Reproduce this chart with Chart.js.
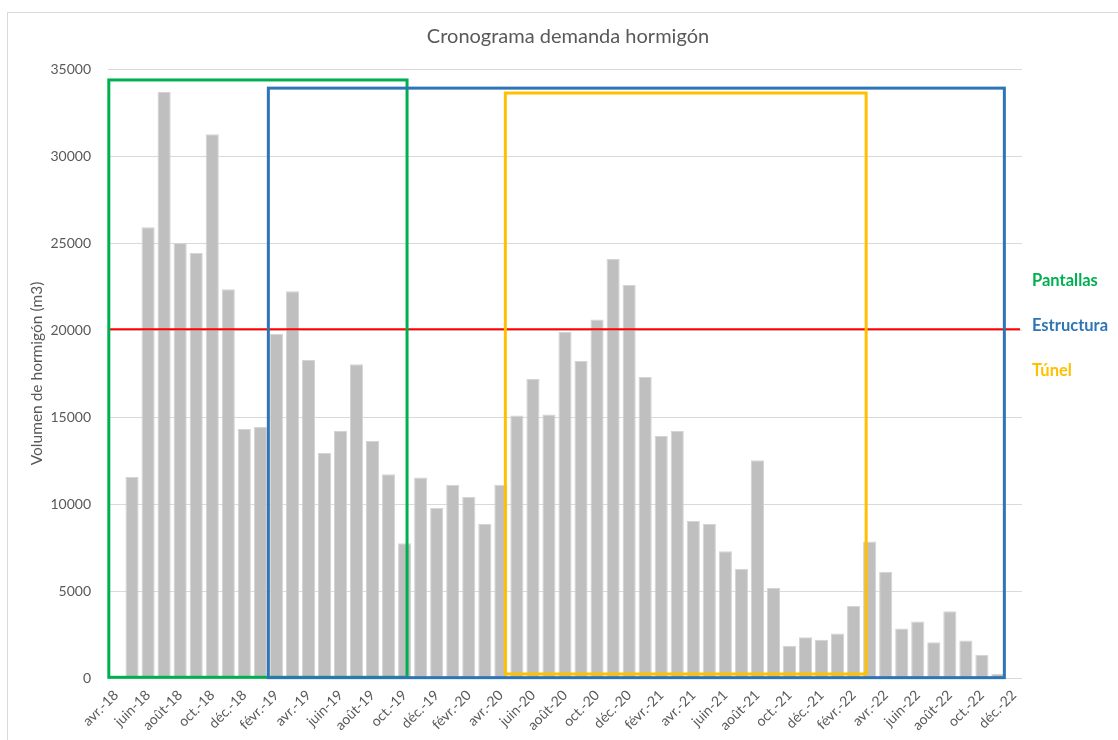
<!DOCTYPE html>
<html>
<head>
<meta charset="utf-8">
<script src="https://cdn.jsdelivr.net/npm/chart.js@4/dist/chart.umd.min.js"></script>
<style>
  html, body { margin: 0; padding: 0; background: #fff; }
  #wrap { position: relative; width: 1118px; height: 740px; }
</style>
</head>
<body>
<div id="wrap"><canvas id="chart" width="1118" height="740"></canvas></div>
<script>
// Monthly categories, avr.-18 .. déc.-22
var months = [
    'avr.-18', 'mai-18', 'juin-18', 'juil.-18', 'août-18', 'sept.-18', 'oct.-18', 'nov.-18', 'déc.-18',
    'janv.-19', 'févr.-19', 'mars-19', 'avr.-19', 'mai-19', 'juin-19', 'juil.-19', 'août-19', 'sept.-19', 'oct.-19', 'nov.-19', 'déc.-19',
    'janv.-20', 'févr.-20', 'mars-20', 'avr.-20', 'mai-20', 'juin-20', 'juil.-20', 'août-20', 'sept.-20', 'oct.-20', 'nov.-20', 'déc.-20',
    'janv.-21', 'févr.-21', 'mars-21', 'avr.-21', 'mai-21', 'juin-21', 'juil.-21', 'août-21', 'sept.-21', 'oct.-21', 'nov.-21', 'déc.-21',
    'janv.-22', 'févr.-22', 'mars-22', 'avr.-22', 'mai-22', 'juin-22', 'juil.-22', 'août-22', 'sept.-22', 'oct.-22', 'nov.-22', 'déc.-22'
];

// Concrete volume per month (m3)
var volumes = [
    0, 11570, 25900, 33680, 25000, 24440, 31250, 22340, 14310,
    14430, 19790, 22230, 18280, 12930, 14200, 18030, 13620, 11710, 7740, 11530, 9790,
    11110, 10420, 8850, 11110, 15080, 17180, 15140, 19890, 18220, 20600, 24080, 22590,
    17300, 13910, 14200, 9020, 8850, 7280, 6280, 12520, 5170, 1860, 2340, 2200,
    2560, 4140, 7850, 6110, 2850, 3250, 2050, 3830, 2160, 1340, 240, 0
];

// Horizontal reference level (m3)
var referenceLevel = 20050;

// Phase boxes: category index span and value span
var phaseNames = ['Pantallas', 'Estructura', 'Túnel'];
var phaseStart = [-0.45, 9.5, 24.28];
var phaseEnd = [18.15, 55.4, 46.78];
var phaseTop = [34370, 33900, 33620];
var phaseBottom = [40, 20, 230];
var phaseColors = ['#00b050', '#2e75b6', '#ffc000'];

var chartTitle = 'Cronograma demanda hormigón';

var FONT = 'Lato, "Open Sans", sans-serif';
var GREY = '#595959';

var overlay = {
    id: 'overlay',
    beforeDraw: function(chart) {
        var c = chart.ctx;
        c.save();
        // chart frame
        c.strokeStyle = '#d9d9d9';
        c.lineWidth = 1;
        c.strokeRect(7.5, 12.5, 1200, 800);
        // title, centred on the whole frame
        c.fillStyle = GREY;
        c.font = '20px ' + FONT;
        c.textAlign = 'center';
        c.textBaseline = 'middle';
        c.fillText(chartTitle, 568, 37);
        c.restore();
    },
    afterDatasetsDraw: function(chart) {
        var c = chart.ctx, x = chart.scales.x, y = chart.scales.y, area = chart.chartArea;
        c.save();
        // red reference line
        var ry = y.getPixelForValue(referenceLevel);
        c.strokeStyle = '#ff0000';
        c.lineWidth = 2;
        c.beginPath();
        c.moveTo(area.left + 2, ry);
        c.lineTo(area.right - 2, ry);
        c.stroke();
        // phase boxes
        c.lineWidth = 3;
        for (var i = 0; i < phaseNames.length; i++) {
            var x0 = x.getPixelForValue(phaseStart[i]);
            var x1 = x.getPixelForValue(phaseEnd[i]);
            var y0 = y.getPixelForValue(phaseTop[i]);
            var y1 = y.getPixelForValue(phaseBottom[i]);
            c.strokeStyle = phaseColors[i];
            c.strokeRect(x0, y0, x1 - x0, y1 - y0);
        }
        // phase labels at the right
        c.font = 'bold 16.5px ' + FONT;
        c.textAlign = 'left';
        c.textBaseline = 'middle';
        for (var j = 0; j < phaseNames.length; j++) {
            c.fillStyle = phaseColors[j];
            c.fillText(phaseNames[j], area.right + 10, ry - 3 + (j - 1) * 45);
        }
        c.restore();
    }
};

var ctx = document.getElementById('chart').getContext('2d');
var chart = new Chart(ctx, {
    type: 'bar',
    data: {
        labels: months,
        datasets: [{
            label: 'Volumen',
            data: volumes,
            backgroundColor: '#bfbfbf',
            borderColor: '#d4d4d4',
            borderWidth: 1,
            categoryPercentage: 1,
            barPercentage: 0.82
        }]
    },
    options: {
        responsive: false,
        animation: false,
        layout: { padding: { left: 0, right: 96, top: 69, bottom: 0 } },
        plugins: {
            legend: { display: false },
            tooltip: { enabled: false },
            title: { display: false }
        },
        scales: {
            x: {
                grid: { display: false, drawTicks: false },
                border: { display: false },
                ticks: {
                    autoSkip: false,
                    minRotation: 45,
                    maxRotation: 45,
                    padding: 9,
                    color: GREY,
                    font: { family: FONT, size: 14 },
                    callback: function(v, i) { return i % 2 === 0 ? months[i] : ''; }
                },
                afterFit: function(s) { s.height = 62; }
            },
            y: {
                min: 0,
                max: 35000,
                grid: { color: '#d9d9d9', drawTicks: false },
                border: { display: false },
                ticks: {
                    stepSize: 5000,
                    padding: 17,
                    color: GREY,
                    font: { family: FONT, size: 14 },
                    callback: function(v) { return String(v); }
                },
                title: {
                    display: true,
                    text: 'Volumen de hormigón (m3)',
                    color: GREY,
                    font: { family: FONT, size: 15.5 },
                    padding: { top: 28, bottom: 0 }
                },
                afterFit: function(s) { s.width = 108; }
            }
        }
    },
    plugins: [overlay]
});
</script>
</body>
</html>
